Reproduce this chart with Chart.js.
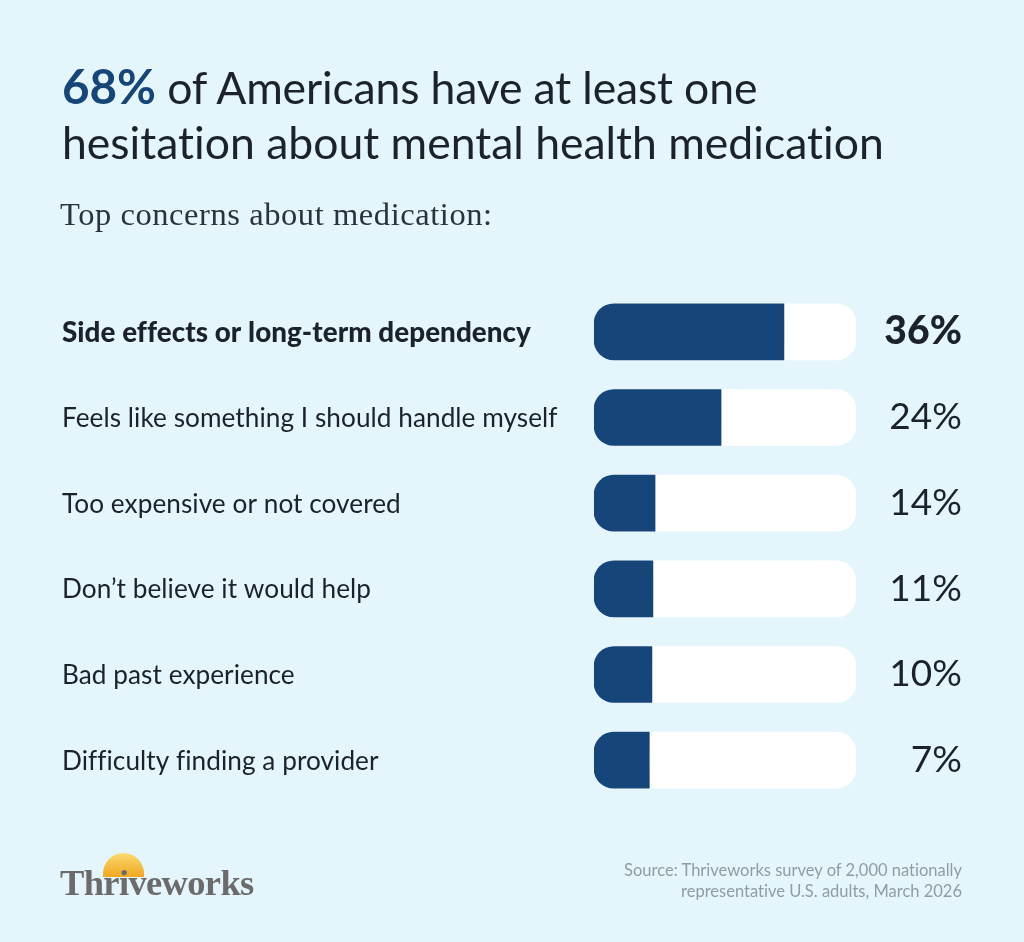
<!DOCTYPE html>
<html>
<head>
<meta charset="utf-8">
<script src="https://cdn.jsdelivr.net/npm/chart.js@4"></script>
<style>
  html, body { margin: 0; padding: 0; }
  body { width: 1024px; height: 942px; background: #e4f6fc; position: relative; overflow: hidden; font-family: Lato, sans-serif; font-variant-ligatures: none; }
  #wrap { position: absolute; left: 0; top: 0; width: 1024px; height: 942px; }
  h1 { position: absolute; left: 62px; top: 59px; margin: 0; font-size: 44.5px; line-height: 55px; font-weight: 400; color: #1b2229; white-space: nowrap; }
  h1 b { color: #164679; font-weight: 700; font-size: 47.5px; line-height: 50px; }
  h1 span { letter-spacing: -0.15px; }
  h2 { position: absolute; left: 60px; top: 196px; margin: 0; font-family: "Liberation Serif", serif; font-size: 32.5px; line-height: 36px; font-weight: 400; color: #2b333a; letter-spacing: 0.57px; white-space: nowrap; }
  .source { position: absolute; right: 62px; top: 860px; font-size: 16.5px; line-height: 20.5px; color: #8f9ca4; text-align: right; white-space: nowrap; }
  .logo { position: absolute; left: 60px; top: 865px; font-family: "Liberation Serif", serif; font-weight: 700; font-size: 36.5px; line-height: 36px; color: #6b6b6b; letter-spacing: -0.65px; }
  .sun { position: absolute; left: 103px; top: 853px; width: 41px; height: 24px; border-radius: 20.5px 20.5px 0 0; background: linear-gradient(#fbd970, #f0a81e); }
</style>
</head>
<body>
<div id="wrap"><canvas id="chart" width="1024" height="942"></canvas></div>
<h1><b>68%</b><span> of Americans have at least one</span><br>hesitation about mental health medication</h1>
<h2>Top concerns about medication:</h2>
<div class="sun"></div>
<div class="logo">Thriveworks</div>
<div class="source">Source: Thriveworks survey of 2,000 nationally<br>representative U.S. adults, March 2026</div>
<script>
const categories = [
  'Side effects or long-term dependency',
  'Feels like something I should handle myself',
  'Too expensive or not covered',
  'Don\u2019t believe it would help',
  'Bad past experience',
  'Difficulty finding a provider'
];
// printed percentages
const valueLabels = ['36%', '24%', '14%', '11%', '10%', '7%'];
// drawn bar lengths as share of the white track (the artwork is not to scale with the labels)
const barLengths = [72.5, 48.5, 23.3, 22.5, 22.1, 21.1];
const trackLengths = [100, 100, 100, 100, 100, 100];

const navy = '#164679';
const textColor = '#1b2229';

// small spacing keeps canvas text from forming the Lato fi/ti ligatures
const noLigaturePlugin = {
  id: 'noLigatures',
  beforeDraw(chart) { chart.ctx.letterSpacing = '0.05px'; }
};

// percent labels at the right of each track
const valueLabelPlugin = {
  id: 'valueLabels',
  afterDatasetsDraw(chart) {
    const ctx = chart.ctx;
    const yScale = chart.scales.y;
    ctx.save();
    ctx.textAlign = 'right';
    ctx.textBaseline = 'middle';
    ctx.fillStyle = textColor;
    valueLabels.forEach((label, i) => {
      ctx.font = i === 0 ? '900 39px Lato, sans-serif' : '400 37px Lato, sans-serif';
      ctx.fillText(label, 962, yScale.getPixelForValue(i));
    });
    ctx.restore();
  }
};

new Chart(document.getElementById('chart'), {
  type: 'bar',
  data: {
    labels: categories,
    datasets: [
      {
        data: barLengths,
        backgroundColor: navy,
        borderSkipped: false,
        borderRadius: { topLeft: 20, bottomLeft: 20, topRight: 0, bottomRight: 0 },
        barThickness: 56,
        order: 1
      },
      {
        data: trackLengths,
        backgroundColor: '#ffffff',
        borderSkipped: false,
        borderRadius: 20,
        barThickness: 56,
        order: 2
      }
    ]
  },
  plugins: [noLigaturePlugin, valueLabelPlugin],
  options: {
    indexAxis: 'y',
    responsive: false,
    animation: false,
    datasets: { bar: { grouped: false } },
    layout: { padding: { left: 62, right: 168, top: 289, bottom: 139 } },
    plugins: { legend: { display: false }, tooltip: { enabled: false } },
    scales: {
      x: { display: false, min: 0, max: 100 },
      y: {
        afterFit(scale) { scale.width = 532; },
        grid: { display: false },
        border: { display: false },
        ticks: {
          crossAlign: 'far',
          color: textColor,
          autoSkip: false,
          padding: 0,
          labelOffset: 1,
          font: ctx => ({ family: 'Lato, sans-serif', size: ctx.index === 0 ? 27.8 : 26.2, weight: ctx.index === 0 ? '900' : '400' })
        }
      }
    }
  }
});
</script>
</body>
</html>
